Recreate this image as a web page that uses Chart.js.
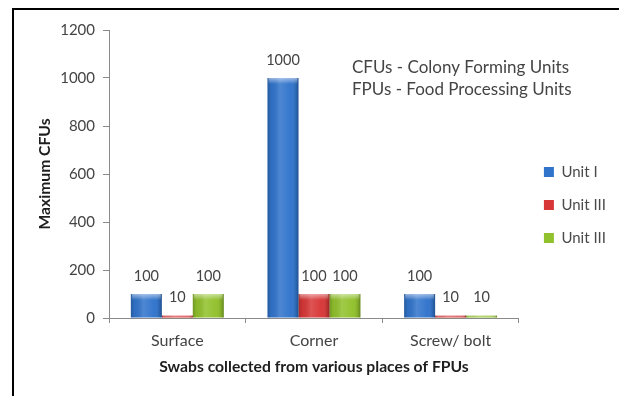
<!DOCTYPE html>
<html>
<head>
<meta charset="utf-8">
<script src="https://cdn.jsdelivr.net/npm/chart.js@4.4.1/dist/chart.umd.min.js"></script>
<style>
  html, body { margin: 0; padding: 0; background: #fff; }
  #wrap { position: relative; width: 619px; height: 396px; overflow: hidden; }
  #c { position: absolute; left: 0; top: 0; }
  #frame { position: absolute; left: 12px; top: 8px; right: -4px; bottom: -4px;
           border-left: 2px solid #000; border-top: 2px solid #000; pointer-events: none; }
</style>
</head>
<body>
<div id="wrap">
  <canvas id="c" width="619" height="396"></canvas>
  <div id="frame"></div>
</div>
<script>
// Maximum colony counts per swab site, one series per processing unit
const categories = ['Surface', 'Corner', 'Screw/ bolt'];
const seriesNames = ['Unit I', 'Unit III', 'Unit III'];
const unitI = [100, 1000, 100];
const unitII = [10, 100, 10];
const unitIII = [100, 100, 10];
const yTicks = [0, 200, 400, 600, 800, 1000, 1200];
const notes = ['CFUs - Colony Forming Units', 'FPUs - Food Processing Units'];

const seriesColors = ['#3174cc', '#d83737', '#91c12c'];
const axisGrey = '#8a8a8a';
const textGrey = '#444444';

// Cylinder-like shading and a light top cap over each bar
const barShade = {
  id: 'barShade',
  afterDatasetsDraw(chart) {
    const ctx = chart.ctx;
    ctx.save();
    chart.data.datasets.forEach((ds, i) => {
      const meta = chart.getDatasetMeta(i);
      meta.data.forEach(el => {
        const { x, y, base, width } = el.getProps(['x', 'y', 'base', 'width'], true);
        const left = x - width / 2;
        const top = Math.min(y, base);
        const h = Math.abs(base - y);
        if (h <= 0) return;
        const g = ctx.createLinearGradient(left, 0, left + width, 0);
        g.addColorStop(0, 'rgba(0,0,0,0.22)');
        g.addColorStop(0.12, 'rgba(0,0,0,0.05)');
        g.addColorStop(0.4, 'rgba(255,255,255,0.14)');
        g.addColorStop(0.75, 'rgba(255,255,255,0.02)');
        g.addColorStop(0.92, 'rgba(0,0,0,0.12)');
        g.addColorStop(1, 'rgba(0,0,0,0.3)');
        ctx.fillStyle = g;
        ctx.fillRect(left, top, width, h);
        const cap = Math.min(6, h);
        const g2 = ctx.createLinearGradient(0, top, 0, top + cap);
        g2.addColorStop(0, 'rgba(255,255,255,0.5)');
        g2.addColorStop(1, 'rgba(255,255,255,0)');
        ctx.fillStyle = g2;
        ctx.fillRect(left + 1, top, width - 2, cap);
      });
    });
    ctx.restore();
  }
};

// Value labels above every bar
const valueLabels = {
  id: 'valueLabels',
  afterDatasetsDraw(chart, args, opts) {
    const ctx = chart.ctx;
    ctx.save();
    ctx.font = opts.font;
    ctx.fillStyle = opts.color;
    ctx.textAlign = 'center';
    ctx.textBaseline = 'middle';
    chart.data.datasets.forEach((ds, i) => {
      const meta = chart.getDatasetMeta(i);
      meta.data.forEach((el, j) => {
        ctx.fillText(String(ds.data[j]), el.x, el.y - opts.offset);
      });
    });
    ctx.restore();
  }
};

// Abbreviation notes inside the plot
const noteText = {
  id: 'noteText',
  afterDraw(chart, args, opts) {
    const ctx = chart.ctx;
    ctx.save();
    ctx.font = opts.font;
    ctx.fillStyle = opts.color;
    ctx.textAlign = 'left';
    ctx.textBaseline = 'middle';
    notes.forEach((t, i) => ctx.fillText(t, opts.x, opts.y + i * opts.lineGap));
    ctx.restore();
  }
};

// Moves the legend block next to the plot
const legendNudge = {
  id: 'legendNudge',
  afterLayout(chart, args, opts) {
    const lg = chart.legend;
    if (!lg) return;
    lg.left += opts.dx; lg.right += opts.dx;
    lg.top += opts.dy; lg.bottom += opts.dy;
  }
};

const datasets = [unitI, unitII, unitIII].map((values, i) => ({
  label: seriesNames[i],
  data: values,
  backgroundColor: seriesColors[i],
  borderWidth: 0,
  categoryPercentage: 0.68,
  barPercentage: 1.0
}));

new Chart(document.getElementById('c'), {
  type: 'bar',
  data: { labels: categories, datasets },
  options: {
    responsive: false,
    animation: false,
    devicePixelRatio: 1,
    layout: { padding: { left: 0, top: 30, right: 10, bottom: 18 } },
    plugins: {
      legend: {
        position: 'right',
        align: 'center',
        labels: {
          boxWidth: 10,
          boxHeight: 10,
          padding: 18,
          color: '#4a4a4a',
          font: { family: 'Lato', size: 15 }
        }
      },
      tooltip: { enabled: false },
      valueLabels: { font: '14.5px Lato', color: textGrey, offset: 18 },
      noteText: { font: '17px Lato', color: textGrey, x: 352, y: 68, lineGap: 22 },
      legendNudge: { dx: 7, dy: 1 }
    },
    scales: {
      x: {
        grid: { display: true, drawOnChartArea: false, drawTicks: true, tickLength: 5, color: axisGrey, offset: true },
        border: { display: true, color: axisGrey },
        ticks: { color: textGrey, font: { family: 'Lato', size: 16 }, padding: 8 },
        title: {
          display: true,
          text: 'Swabs collected from various places of FPUs',
          color: '#1e1e1e',
          font: { family: 'Lato', size: 15.7, weight: 'bold' },
          padding: { top: 0, bottom: 2 }
        },
        afterFit(scale) { scale.height = 60; }
      },
      y: {
        min: 0,
        max: 1200,
        grid: { display: true, drawOnChartArea: false, drawTicks: true, tickLength: 6, color: axisGrey },
        border: { display: true, color: axisGrey },
        ticks: {
          color: textGrey,
          font: { family: 'Lato', size: 15 },
          padding: 8,
          stepSize: 200,
          callback: v => String(v)
        },
        afterBuildTicks(scale) { scale.ticks = yTicks.map(v => ({ value: v })); },
        title: {
          display: true,
          text: 'Maximum CFUs',
          color: '#1e1e1e',
          font: { family: 'Lato', size: 15.7, weight: 'bold' },
          padding: { top: 36, bottom: 0 }
        },
        afterFit(scale) { scale.width = 109; }
      }
    }
  },
  plugins: [barShade, valueLabels, noteText, legendNudge]
});
</script>
</body>
</html>
